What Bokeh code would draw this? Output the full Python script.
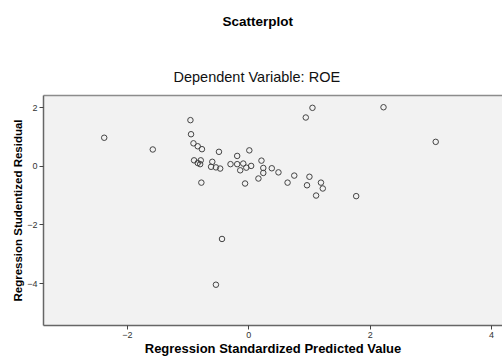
from bokeh.plotting import figure
from bokeh.models import FixedTicker, Range1d, Title, LinearAxis, ColumnDataSource
from bokeh.embed import file_html
from bokeh.resources import INLINE

# Regression standardized predicted value (x) and studentized residual (y)
pred = [-2.38, -1.58, -0.96, -0.95, -0.91, -0.84, -0.77, -0.49, -0.90, -0.79,
        -0.84, -0.80, -0.78, -0.60, -0.62, -0.54, -0.47, -0.30, -0.19, -0.19,
        -0.09, -0.14, -0.04, 0.01, 0.04, -0.06, 0.21, 0.24, 0.24, 0.16,
        0.38, 0.49, 0.64, 0.75, 0.94, 0.96, 1.00, 1.05, 2.22, 3.08,
        1.77, 1.11, 1.19, 1.22, -0.44, -0.54]
resid = [0.97, 0.57, 1.57, 1.09, 0.78, 0.68, 0.58, 0.49, 0.20, 0.20,
         0.11, 0.07, -0.56, 0.15, -0.02, -0.04, -0.08, 0.07, 0.07, 0.35,
         0.09, -0.14, -0.05, 0.54, 0.01, -0.59, 0.19, -0.06, -0.23, -0.42,
         -0.07, -0.21, -0.56, -0.32, 1.66, -0.65, -0.36, 1.99, 2.01, 0.83,
         -1.02, -1.00, -0.56, -0.76, -2.48, -4.04]
x_ticks = [-2, 0, 2, 4]
y_ticks = [-4, -2, 0, 2]
x_range = (-3.38, 4.18)
y_range = (-5.43, 2.41)

FONT = "Liberation Sans"

p = figure(width=502, height=360, output_backend="svg", toolbar_location=None,
           x_range=Range1d(*x_range), y_range=Range1d(*y_range),
           min_border_left=43, min_border_right=0, min_border_top=95,
           min_border_bottom=35, title=None)

p.background_fill_color = "#f2f2f2"
p.border_fill_color = "white"
p.outline_line_color = None
p.grid.visible = False

src = ColumnDataSource(dict(x=pred, y=resid))
p.scatter("x", "y", source=src, marker="circle", size=5.5, fill_color=None,
          line_color="#444444", line_width=1.0)

for ax in (p.xaxis[0], p.yaxis[0]):
    ax.major_tick_out = 4
    ax.major_tick_in = 0
    ax.minor_tick_line_color = None
    ax.axis_line_color = "#666666"
    ax.axis_line_width = 1.5
    ax.major_tick_line_color = "#444444"
    ax.major_label_text_font = FONT
    ax.major_label_text_font_size = "9px"
    ax.major_label_text_color = "#333333"
    ax.axis_label_text_font = FONT
    ax.axis_label_text_font_style = "bold"
    ax.axis_label_text_color = "black"
    ax.major_label_standoff = 2

p.xaxis[0].ticker = FixedTicker(ticks=x_ticks)
p.yaxis[0].ticker = FixedTicker(ticks=y_ticks)
p.xaxis[0].axis_label = "Regression Standardized Predicted Value"
p.yaxis[0].axis_label = "Regression Studentized Residual"
p.xaxis[0].axis_label_text_font_size = "13px"
p.yaxis[0].axis_label_text_font_size = "11.5px"
p.xaxis[0].axis_label_standoff = 0
p.yaxis[0].axis_label_standoff = 0

top = LinearAxis(ticker=FixedTicker(ticks=[]), major_label_text_font_size="0px",
                 major_tick_line_color=None, minor_tick_line_color=None,
                 axis_line_color="#8c8c8c", axis_line_width=1.5)
p.add_layout(top, "above")

# invisible spacers between frame and titles
p.add_layout(Title(text=" ", text_font_size="2px", standoff=7), "above")
sub = Title(text="Dependent Variable: ROE", align="left", offset=130,
            text_font=FONT, text_font_size="14.5px", text_font_style="normal",
            text_color="#111111", standoff=0)
p.add_layout(sub, "above")
p.add_layout(Title(text=" ", text_font_size="2px", standoff=34), "above")
main = Title(text="Scatterplot", align="left", offset=179,
             text_font=FONT, text_font_size="13.5px", text_font_style="bold",
             text_color="black", standoff=0)
p.add_layout(main, "above")

open("out.html", "w").write(file_html(p, INLINE))
